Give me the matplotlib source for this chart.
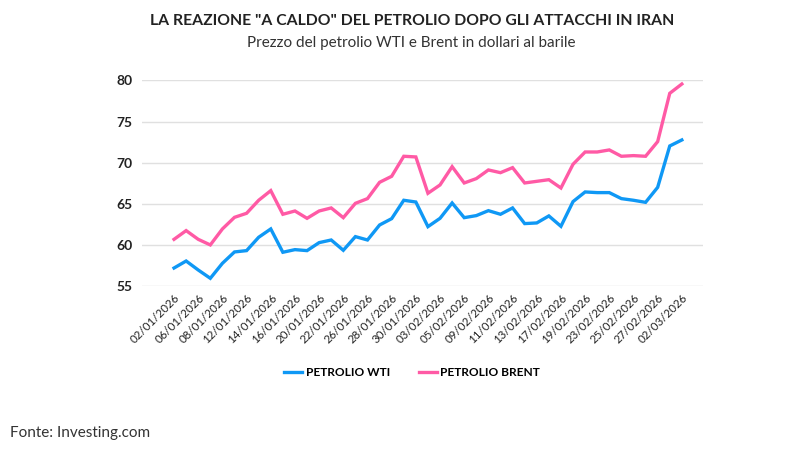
import matplotlib
matplotlib.use("Agg")
import matplotlib.pyplot as plt
from matplotlib.lines import Line2D

dates = ["02/01/2026", "05/01/2026", "06/01/2026", "07/01/2026", "08/01/2026",
         "09/01/2026", "12/01/2026", "13/01/2026", "14/01/2026", "15/01/2026",
         "16/01/2026", "19/01/2026", "20/01/2026", "21/01/2026", "22/01/2026",
         "23/01/2026", "26/01/2026", "27/01/2026", "28/01/2026", "29/01/2026",
         "30/01/2026", "02/02/2026", "03/02/2026", "04/02/2026", "05/02/2026",
         "06/02/2026", "09/02/2026", "10/02/2026", "11/02/2026", "12/02/2026",
         "13/02/2026", "16/02/2026", "17/02/2026", "18/02/2026", "19/02/2026",
         "20/02/2026", "23/02/2026", "24/02/2026", "25/02/2026", "26/02/2026",
         "27/02/2026", "01/03/2026", "02/03/2026"]

wti = [57.22, 58.07, 56.98, 55.97, 57.79, 59.17, 59.33, 60.95, 61.96, 59.13,
       59.45, 59.33, 60.30, 60.62, 59.37, 61.03, 60.62, 62.44, 63.21, 65.44,
       65.23, 62.24, 63.25, 65.11, 63.33, 63.58, 64.18, 63.74, 64.51, 62.61,
       62.69, 63.54, 62.28, 65.28, 66.45, 66.37, 66.37, 65.64, 65.44, 65.19,
       67.01, 72.03, 72.76]

brent = [60.70, 61.76, 60.70, 60.02, 61.96, 63.37, 63.86, 65.44, 66.61, 63.74,
         64.14, 63.25, 64.14, 64.51, 63.33, 65.07, 65.64, 67.62, 68.35, 70.78,
         70.70, 66.29, 67.30, 69.52, 67.54, 68.07, 69.12, 68.79, 69.40, 67.54,
         67.74, 67.94, 66.93, 69.81, 71.30, 71.30, 71.55, 70.78, 70.86, 70.78,
         72.56, 78.42, 79.55]

tick_labels = ["02/01/2026", "06/01/2026", "08/01/2026", "12/01/2026", "14/01/2026",
               "16/01/2026", "20/01/2026", "22/01/2026", "26/01/2026", "28/01/2026",
               "30/01/2026", "03/02/2026", "05/02/2026", "09/02/2026", "11/02/2026",
               "13/02/2026", "17/02/2026", "19/02/2026", "23/02/2026", "25/02/2026",
               "27/02/2026", "02/03/2026"]

y_ticks = [55, 60, 65, 70, 75, 80]

WTI_COLOR = "#0f98f5"
BRENT_COLOR = "#ff5aa5"
FONT = ["Lato", "DejaVu Sans"]

plt.rcParams["font.family"] = FONT

fig = plt.figure(figsize=(8.03, 4.55), dpi=100)
ax = fig.add_axes([142 / 803, 1 - 286.3 / 455, (703 - 142) / 803, (286.3 - 80.3) / 455])

x = list(range(len(dates)))
ax.plot(x, wti, color=WTI_COLOR, lw=2.4, solid_joinstyle="miter", zorder=3)
ax.plot(x, brent, color=BRENT_COLOR, lw=2.4, solid_joinstyle="miter", zorder=3)

ax.set_ylim(55, 80)
ax.set_xlim(-2.65, 43.75)
ax.set_yticks(y_ticks)
ax.set_yticklabels([str(v) for v in y_ticks], fontsize=10, fontweight="bold", color="#222222")
ax.grid(axis="y", color="#e0e0e0", lw=1)
ax.set_axisbelow(True)

tick_pos = [dates.index(t) for t in tick_labels]
ax.set_xticks(tick_pos)
ax.set_xticklabels(tick_labels, rotation=45, ha="right", va="top",
                   rotation_mode="anchor", fontsize=8.3, color="#222222")
ax.tick_params(axis="both", length=0)
ax.tick_params(axis="y", pad=7)
ax.tick_params(axis="x", pad=4)
for s in ax.spines.values():
    s.set_visible(False)

fig.text(412 / 803, 1 - 21 / 455, 'LA REAZIONE "A CALDO" DEL PETROLIO DOPO GLI ATTACCHI IN IRAN',
         ha="center", va="center", fontsize=11.3, fontweight="bold", color="#222222")
fig.text(411 / 803, 1 - 43 / 455, "Prezzo del petrolio WTI e Brent in dollari al barile",
         ha="center", va="center", fontsize=11, color="#333333")

handles = [Line2D([], [], color=WTI_COLOR, lw=2.4),
           Line2D([], [], color=BRENT_COLOR, lw=2.4)]
leg = fig.legend(handles, ["PETROLIO WTI", "PETROLIO BRENT"], loc="center",
                 bbox_to_anchor=(412 / 803, 1 - 373 / 455), ncol=2, frameon=False,
                 handlelength=1.5, handletextpad=0.3, columnspacing=2.4,
                 prop={"family": FONT, "weight": "bold", "size": 8.6})

fig.text(10 / 803, 1 - 433 / 455, "Fonte: Investing.com", ha="left", va="center",
         fontsize=11, color="#333333")

fig.savefig("out.png", dpi=100)
